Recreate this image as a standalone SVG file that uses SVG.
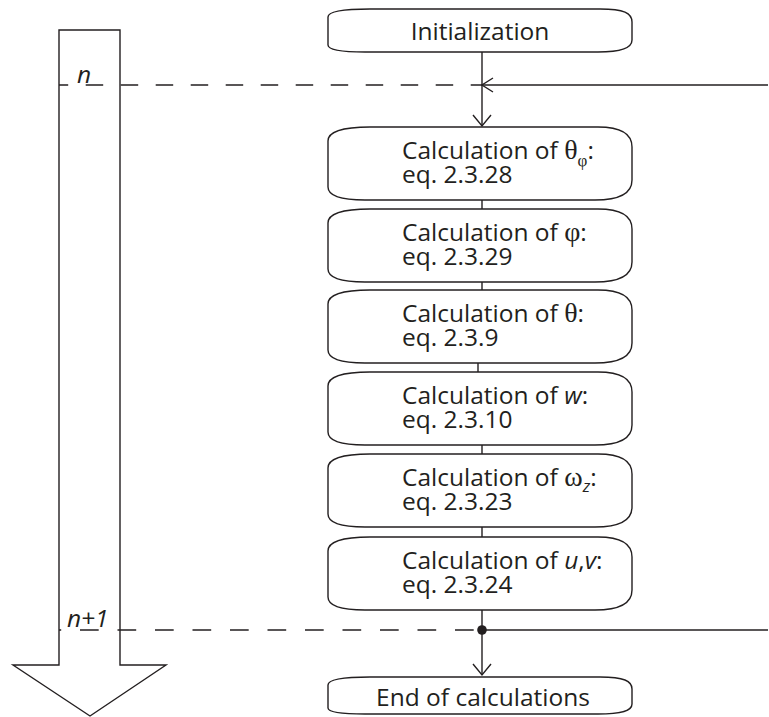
<svg xmlns="http://www.w3.org/2000/svg" xmlns:xlink="http://www.w3.org/1999/xlink" width="769" height="717" viewBox="0 0 769 717">
<style>
.ln{fill:none;stroke:#231f20;stroke-width:1.4}
.bx{fill:#fff;stroke:#231f20;stroke-width:1.4}
.t{font-family:"Open Sans","Noto Sans",sans-serif;font-size:24.5px;fill:#231f20}
.g{font-family:"Liberation Serif",serif;font-size:28px}
.s{font-size:17px}
.i{font-style:italic}
.d1{stroke-dasharray:17.5 17.5}
.d2{stroke-dasharray:18.7 18.8}
</style>
<defs>
<path id="box" d="M370,0 L598,0 C622,0 632,8 632,20 L632,53 C632,66 620,73 595,73 L365,73 C340,73 328,68 328,60 L328,14 C328,5 342,0 370,0 Z"/>
</defs>
<g id="timeline">
<polygon class="bx" points="59,30 120,30 120,665 166,665 90,716 13,665 59,665"/>
</g>
<g id="connectors">
<line class="ln d1" x1="59" y1="85" x2="482" y2="85" stroke-dashoffset="8.3"/>
<line class="ln" x1="482" y1="85" x2="768" y2="85"/>
<polyline class="ln" points="493,78 482,85 493,92"/>
<line class="ln" x1="482" y1="52" x2="482" y2="126"/>
<polyline class="ln" points="473,115 482,126 491,115"/>
<line class="ln" x1="482" y1="200" x2="482" y2="209"/>
<line class="ln" x1="482" y1="282" x2="482" y2="290"/>
<line class="ln" x1="478" y1="363" x2="478" y2="372"/>
<line class="ln" x1="482" y1="445" x2="482" y2="454"/>
<line class="ln" x1="482" y1="527" x2="482" y2="537"/>
<line class="ln" x1="482" y1="610" x2="482" y2="675"/>
<polyline class="ln" points="473,664 482,675 491,664"/>
<line class="ln d2" x1="59" y1="630" x2="482" y2="630" stroke-dashoffset="16.5"/>
<line class="ln" x1="482" y1="630" x2="768" y2="630"/>
<circle cx="482" cy="630" r="4.8" fill="#231f20"/>
<text class="t i" x="77" y="83">n</text>
<text class="t i" x="67" y="627">n+1</text>
</g>
<g id="init">
<path class="bx" d="M370,9 L600,9 C624,9 632,13 632,22 L632,40 C632,48 622,52 598,52 L365,52 C340,52 328,50 328,45 L328,17 C328,12 342,9 370,9 Z"/>
<text class="t" x="480" y="40" text-anchor="middle">Initialization</text>
</g>
<g id="n1">
<use xlink:href="#box" class="bx" y="127"/>
<text class="t" x="402" y="159">Calculation of <tspan class="g">θ</tspan><tspan class="g s" dy="7">φ</tspan><tspan dy="-7">:</tspan><tspan x="402" dy="24">eq. 2.3.28</tspan></text>
</g>
<g id="n2">
<use xlink:href="#box" class="bx" y="209"/>
<text class="t" x="402" y="241">Calculation of <tspan class="g">φ</tspan>:<tspan x="402" dy="24">eq. 2.3.29</tspan></text>
</g>
<g id="n3">
<use xlink:href="#box" class="bx" y="290"/>
<text class="t" x="402" y="322">Calculation of <tspan class="g">θ</tspan>:<tspan x="402" dy="24">eq. 2.3.9</tspan></text>
</g>
<g id="n4">
<use xlink:href="#box" class="bx" y="372"/>
<text class="t" x="402" y="404">Calculation of <tspan class="i">w</tspan>:<tspan x="402" dy="24">eq. 2.3.10</tspan></text>
</g>
<g id="n5">
<use xlink:href="#box" class="bx" y="454"/>
<text class="t" x="402" y="486">Calculation of <tspan class="g">ω</tspan><tspan class="i s" dy="6">z</tspan><tspan dy="-6">:</tspan><tspan x="402" dy="24">eq. 2.3.23</tspan></text>
</g>
<g id="n6">
<use xlink:href="#box" class="bx" y="537"/>
<text class="t" x="402" y="569">Calculation of <tspan class="i">u</tspan>,<tspan class="i">v</tspan>:<tspan x="402" dy="24">eq. 2.3.24</tspan></text>
</g>
<g id="end">
<path class="bx" d="M370,677 L600,677 C624,677 632,681 632,689 L632,704 C632,711 622,714 598,714 L365,714 C340,714 328,712 328,708 L328,685 C328,680 342,677 370,677 Z"/>
<text class="t" x="483" y="706" text-anchor="middle">End of calculations</text>
</g>
</svg>
